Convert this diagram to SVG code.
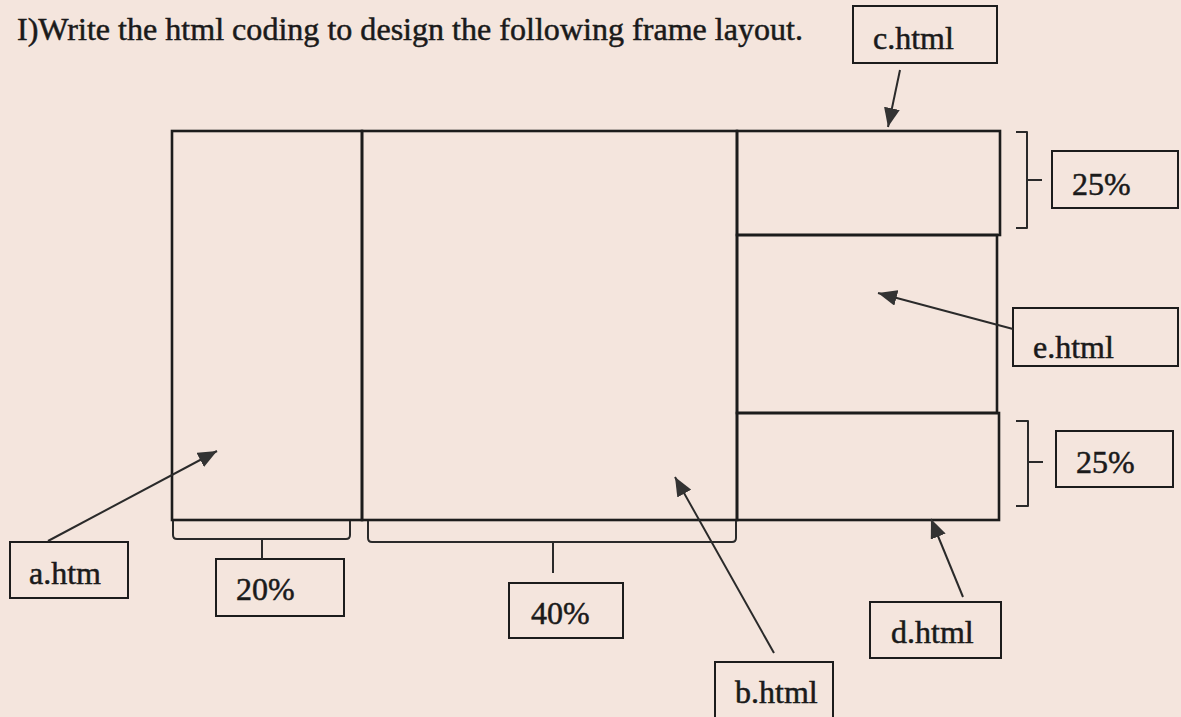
<svg xmlns="http://www.w3.org/2000/svg" width="1181" height="717" viewBox="0 0 1181 717">
<style>
.frame{fill:none;stroke:#1c1c1c;stroke-width:2.6}
.box{fill:none;stroke:#1c1c1c;stroke-width:2}
.t{font-family:"Liberation Serif","Times New Roman",serif;font-size:32px;fill:#1a1a1a;stroke:#1a1a1a;stroke-width:0.5}
.br{fill:none;stroke:#2a2a2a;stroke-width:2;stroke-linejoin:round}
.ar{fill:none;stroke:#2a2a2a;stroke-width:2;marker-end:url(#ah)}
</style>
<defs>
<marker id="ah" markerUnits="userSpaceOnUse" markerWidth="20" markerHeight="16" refX="19" refY="8" orient="auto">
<path d="M0,0 L19,8 L0,16 z" fill="#333"/>
</marker>
</defs>
<rect width="1181" height="717" fill="#f4e5dd"/>
<text class="t" x="17" y="40" textLength="786" lengthAdjust="spacingAndGlyphs">I)Write the html coding to design the following frame layout.</text>

<g id="frame-a"><rect class="frame" x="172" y="131" width="190" height="389"/></g>
<g id="frame-b"><rect class="frame" x="362" y="131" width="375" height="389"/></g>
<g id="frame-c"><rect class="frame" x="737" y="131" width="263" height="104"/></g>
<g id="frame-e"><rect class="frame" x="737" y="235" width="260" height="178"/></g>
<g id="frame-d"><rect class="frame" x="737" y="413" width="262" height="107"/></g>

<g id="label-c"><rect class="box" x="853" y="6" width="144" height="57"/><text class="t" x="873" y="49">c.html</text></g>
<g id="label-25a"><rect class="box" x="1052" y="151" width="126" height="57"/><text class="t" x="1072" y="195">25%</text></g>
<g id="label-e"><rect class="box" x="1013" y="308" width="165" height="58"/><text class="t" x="1033" y="358">e.html</text></g>
<g id="label-25b"><rect class="box" x="1056" y="431" width="117" height="56"/><text class="t" x="1076" y="473">25%</text></g>
<g id="label-a"><rect class="box" x="10" y="542" width="118" height="56"/><text class="t" x="29" y="584">a.htm</text></g>
<g id="label-20"><rect class="box" x="216" y="559" width="128" height="57"/><text class="t" x="236" y="600">20%</text></g>
<g id="label-40"><rect class="box" x="509" y="583" width="114" height="55"/><text class="t" x="531" y="624">40%</text></g>
<g id="label-d"><rect class="box" x="870" y="602" width="131" height="56"/><text class="t" x="891" y="643">d.html</text></g>
<g id="label-b"><rect class="box" x="715" y="662" width="118" height="60"/><text class="t" x="735" y="703">b.html</text></g>

<g id="connectors">
<path class="br" d="M173,521 V535 Q173,539 177,539 H346 Q350,539 350,535 V521 M262,539 V559"/>
<path class="br" d="M368,521 V538 Q368,542 372,542 H732 Q736,542 736,538 V521 M553,542 V573"/>
<path class="br" d="M1016,132 H1027 V228 H1016 M1027,180 H1042"/>
<path class="br" d="M1016,421 H1028 V506 H1016 M1028,462 H1043"/>
<line class="ar" x1="900" y1="70" x2="888" y2="127"/>
<line class="ar" x1="1013" y1="329" x2="878" y2="293"/>
<line class="ar" x1="48" y1="541" x2="217" y2="451"/>
<line class="ar" x1="774" y1="653" x2="675" y2="477"/>
<line class="ar" x1="963" y1="597" x2="931" y2="519"/>
</g>
</svg>
